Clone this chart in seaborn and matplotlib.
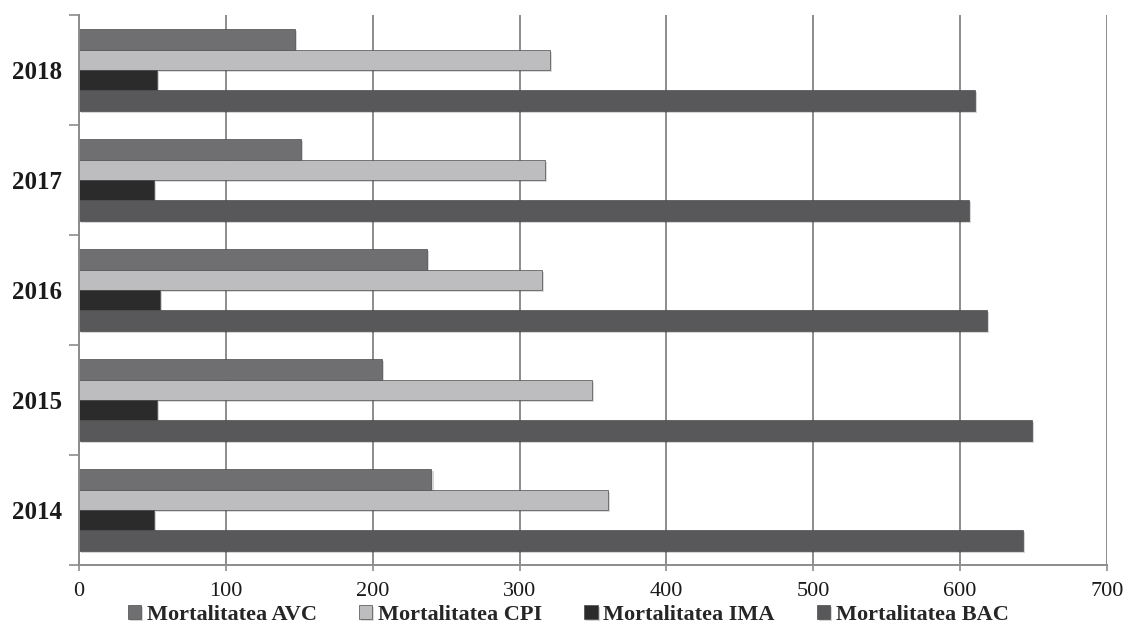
import matplotlib
matplotlib.use("Agg")
import matplotlib.pyplot as plt
import matplotlib.patheffects as pe
from matplotlib.ticker import FixedLocator
import pandas as pd
import seaborn as sns

# Mortality values per year
years = ["2018", "2017", "2016", "2015", "2014"]
avc = [147, 151, 237, 206, 240]
cpi = [321, 317, 315, 349, 360]
ima = [53, 51, 55, 53, 51]
bac = [610, 606, 618, 649, 643]

series = ["Mortalitatea AVC", "Mortalitatea CPI", "Mortalitatea IMA", "Mortalitatea BAC"]
colors = ["#6f6f72", "#bdbdbf", "#2b2b2c", "#58585b"]

df = pd.DataFrame({
    "An": years * 4,
    "Serie": [s for s in series for _ in years],
    "Valoare": avc + cpi + ima + bac,
})

sns.set_theme(style="white")
plt.rcParams["font.family"] = ["Liberation Serif", "DejaVu Serif"]

fig, ax = plt.subplots(figsize=(11.28, 6.35), dpi=100)
fig.subplots_adjust(left=79 / 1128, right=1107 / 1128, top=1 - 15 / 635, bottom=1 - 565 / 635)

sns.barplot(
    data=df, x="Valoare", y="An", hue="Serie",
    order=years, hue_order=series, palette=colors,
    orient="h", width=0.74, saturation=1, ax=ax,
    edgecolor="#4a4a4a", linewidth=0.5,
)

for bar in ax.patches:
    bar.set_path_effects([
        pe.SimplePatchShadow(offset=(1.5, -1.5), alpha=0.18),
        pe.Normal(),
    ])

ax.set_xlim(0, 700)
ax.set_ylim(4.5, -0.5)
ax.set_xticks(range(0, 701, 100))
ax.grid(axis="x", color="#8c8c8c", linewidth=1.4)
ax.set_axisbelow(True)

for side in ["top", "right"]:
    ax.spines[side].set_visible(False)
for side in ["left", "bottom"]:
    ax.spines[side].set_color("#8c8c8c")
    ax.spines[side].set_linewidth(1.4)

ax.set_xlabel("")
ax.set_ylabel("")
ax.tick_params(axis="x", bottom=True, length=4, width=1.2, color="#8c8c8c",
               labelsize=16, labelcolor="#1a1a1a", pad=8)
ax.tick_params(axis="y", which="major", left=False, length=0, labelsize=18, pad=12)
ax.yaxis.set_minor_locator(FixedLocator([i - 0.5 for i in range(len(years) + 1)]))
ax.tick_params(axis="y", which="minor", left=True, length=7, width=1.2, color="#8c8c8c")
for lbl in ax.get_yticklabels():
    lbl.set_fontweight("bold")
    lbl.set_color("#1a1a1a")

handles, labels = ax.get_legend_handles_labels()
ax.legend(
    handles, labels, loc="center", bbox_to_anchor=(0.476, -0.09),
    ncol=4, frameon=False, handlelength=0.6, handleheight=0.6,
    handletextpad=0.25, columnspacing=1.9, borderpad=0.1,
    prop={"family": "Liberation Serif", "weight": "bold", "size": 16},
)

fig.savefig("out.png", dpi=100)
